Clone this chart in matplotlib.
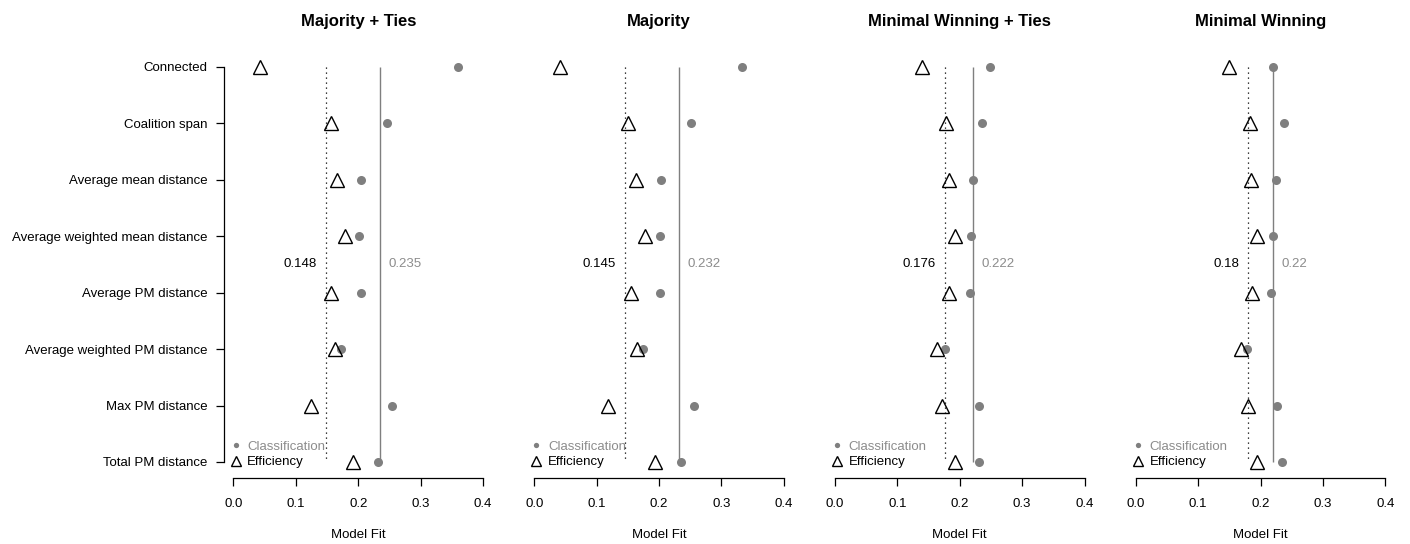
import matplotlib
matplotlib.use("Agg")
import matplotlib.pyplot as plt
from matplotlib.lines import Line2D

plt.rcParams['font.family'] = ['Liberation Sans', 'DejaVu Sans']

titles = ["Majority + Ties", "Majority", "Minimal Winning + Ties", "Minimal Winning"]
measures = ["Connected", "Coalition span", "Average mean distance",
            "Average weighted mean distance", "Average PM distance",
            "Average weighted PM distance", "Max PM distance", "Total PM distance"]

efficiency = [
    [0.0425, 0.156, 0.166, 0.178, 0.157, 0.162, 0.125, 0.192],
    [0.0406, 0.151, 0.163, 0.177, 0.155, 0.164, 0.119, 0.194],
    [0.140, 0.178, 0.183, 0.192, 0.183, 0.164, 0.172, 0.192],
    [0.150, 0.183, 0.185, 0.195, 0.186, 0.168, 0.180, 0.195],
]
classification = [
    [0.360, 0.246, 0.205, 0.201, 0.204, 0.173, 0.254, 0.231],
    [0.333, 0.251, 0.204, 0.201, 0.201, 0.175, 0.256, 0.235],
    [0.248, 0.236, 0.222, 0.218, 0.216, 0.177, 0.231, 0.231],
    [0.220, 0.237, 0.225, 0.220, 0.217, 0.179, 0.227, 0.234],
]
eff_means = [0.148, 0.145, 0.176, 0.18]
cls_means = [0.235, 0.232, 0.222, 0.22]
xticks = [0.0, 0.1, 0.2, 0.3, 0.4]

GRAY = "#7f7f7f"
TGRAY = "#8c8c8c"
FS = 9.5

W, H = 1410, 544
fig = plt.figure(figsize=(W / 100, H / 100), dpi=100)

ypos = list(range(1, len(measures) + 1))

for i in range(4):
    left = 223.5 + 300.75 * i
    ax = fig.add_axes([left / W, 66.2 / H, 269.5 / W, 426.6 / H])
    ax.set_xlim(-0.016, 0.416)
    ax.set_ylim(8.28, 0.72)

    ax.vlines(eff_means[i], 1, 8, colors="black", linestyles=(0, (1, 3)), linewidth=0.9, zorder=3)
    ax.vlines(cls_means[i], 1, 8, colors=GRAY, linewidth=1.0, zorder=3)

    ax.plot(classification[i], ypos, linestyle="none", marker="o", ms=6.5,
            color=GRAY, markeredgewidth=0, zorder=4)
    ax.plot(efficiency[i], ypos, linestyle="none", marker="^", ms=10.5,
            markerfacecolor="none", markeredgecolor="black", markeredgewidth=1.0, zorder=5)

    ax.annotate(f"{eff_means[i]:g}", xy=(eff_means[i], 4.5), xytext=(-6.5, 0),
                textcoords="offset points", ha="right", va="center", fontsize=FS, color="black")
    ax.annotate(f"{cls_means[i]:g}", xy=(cls_means[i], 4.5), xytext=(5.8, 0),
                textcoords="offset points", ha="left", va="center", fontsize=FS, color=TGRAY)

    for s in ["top", "right"]:
        ax.spines[s].set_visible(False)
    ax.spines["bottom"].set_bounds(0, 0.4)
    ax.spines["bottom"].set_linewidth(0.9)
    ax.set_xticks(xticks)
    ax.set_xticklabels([f"{t:.1f}" for t in xticks], fontsize=FS)
    ax.tick_params(axis="x", length=5.5, width=0.9, pad=9)
    ax.set_xlabel("Model Fit", fontsize=FS, labelpad=14)

    if i == 0:
        ax.spines["left"].set_bounds(1, 8)
        ax.spines["left"].set_linewidth(0.9)
        ax.set_yticks(ypos)
        ax.set_yticklabels(measures, fontsize=FS)
        ax.tick_params(axis="y", length=5.5, width=0.9, pad=6)
    else:
        ax.spines["left"].set_visible(False)
        ax.set_yticks([])

    ax.set_title(titles[i], fontsize=12, fontweight="bold", pad=18)

    handles = [
        Line2D([], [], linestyle="none", marker="o", ms=3.8, color=GRAY, markeredgewidth=0),
        Line2D([], [], linestyle="none", marker="^", ms=6.5, markerfacecolor="none",
               markeredgecolor="black", markeredgewidth=1.0),
    ]
    leg = ax.legend(handles, ["Classification", "Efficiency"], loc="lower left",
                    bbox_to_anchor=(0.0208, 0.022), frameon=False, fontsize=FS,
                    borderpad=0, borderaxespad=0, handlelength=1.0, handletextpad=0.38,
                    labelspacing=0.25, labelcolor=[TGRAY, "black"])
    leg.set_zorder(2)

fig.savefig("out.png", dpi=100)
